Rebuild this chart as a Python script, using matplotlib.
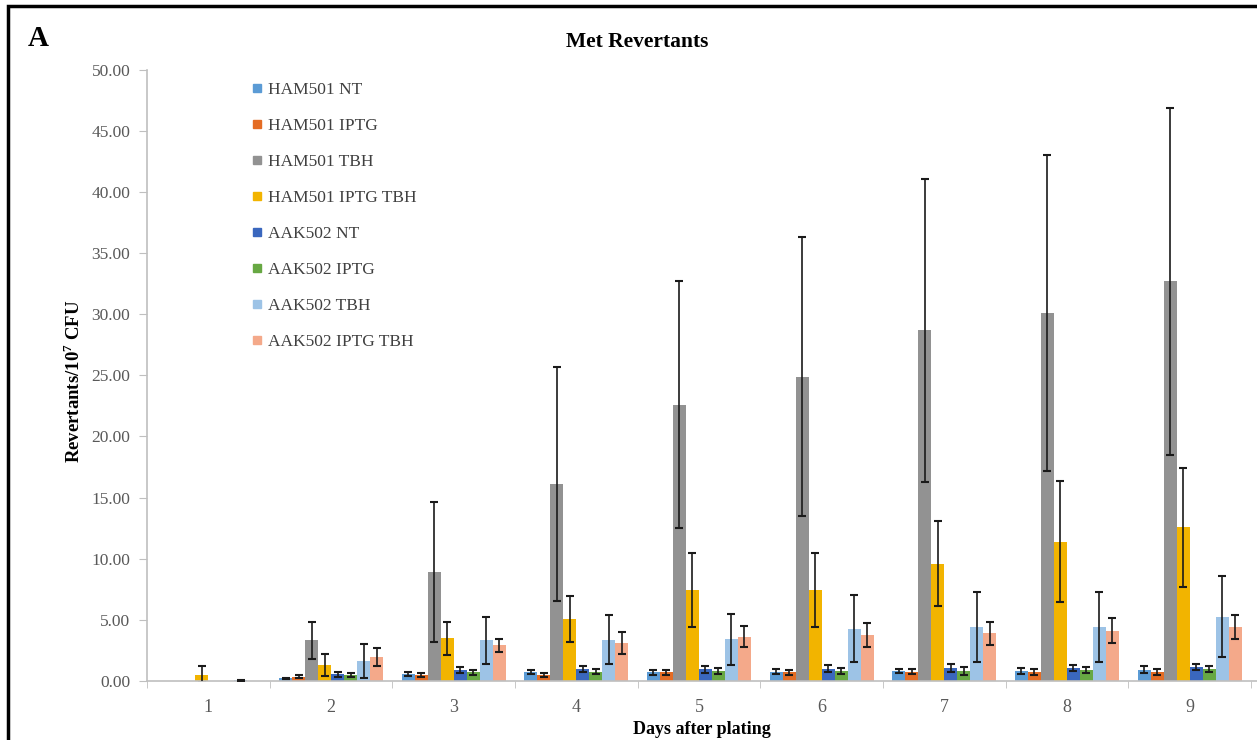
import numpy as np
import matplotlib
matplotlib.use("Agg")
import matplotlib.pyplot as plt
from matplotlib.lines import Line2D
from matplotlib.patches import Rectangle

plt.rcParams['font.family'] = ['Liberation Serif', 'DejaVu Serif']
plt.rcParams['mathtext.fontset'] = 'custom'
plt.rcParams['mathtext.rm'] = 'Liberation Serif'
plt.rcParams['mathtext.bf'] = 'Liberation Serif:bold'

# data
days = [1, 2, 3, 4, 5, 6, 7, 8, 9]
series = ["HAM501 NT", "HAM501 IPTG", "HAM501 TBH", "HAM501 IPTG TBH",
          "AAK502 NT", "AAK502 IPTG", "AAK502 TBH", "AAK502 IPTG TBH"]
colors = ["#5B9BD5", "#E46C24", "#929292", "#F2B400",
          "#3A67BE", "#67A843", "#9DC3E6", "#F4A98A"]

ham_nt = [0.0, 0.2, 0.55, 0.7, 0.7, 0.75, 0.8, 0.8, 0.9]
ham_nt_err = [0.0, 0.05, 0.15, 0.15, 0.2, 0.2, 0.2, 0.25, 0.3]
ham_iptg = [0.0, 0.35, 0.45, 0.5, 0.7, 0.7, 0.75, 0.75, 0.75]
ham_iptg_err = [0.0, 0.15, 0.15, 0.15, 0.2, 0.2, 0.2, 0.25, 0.25]
ham_tbh = [0.0, 3.3, 8.9, 16.1, 22.6, 24.9, 28.7, 30.1, 32.7]
ham_tbh_err = [0.0, 1.5, 5.7, 9.6, 10.1, 11.4, 12.4, 12.9, 14.2]
ham_iptg_tbh = [0.5, 1.3, 3.5, 5.05, 7.45, 7.45, 9.6, 11.4, 12.55]
ham_iptg_tbh_err = [0.7, 0.9, 1.35, 1.85, 3.05, 3.05, 3.5, 4.95, 4.9]
aak_nt = [0.0, 0.55, 0.85, 0.95, 0.95, 1.0, 1.05, 1.05, 1.15]
aak_nt_err = [0.0, 0.2, 0.25, 0.25, 0.3, 0.3, 0.3, 0.25, 0.25]
aak_iptg = [0.0, 0.5, 0.7, 0.75, 0.8, 0.8, 0.8, 0.9, 1.0]
aak_iptg_err = [0.0, 0.15, 0.2, 0.2, 0.25, 0.25, 0.3, 0.25, 0.25]
aak_tbh = [0.05, 1.65, 3.3, 3.35, 3.4, 4.25, 4.4, 4.4, 5.25]
aak_tbh_err = [0.05, 1.4, 1.9, 2.0, 2.1, 2.75, 2.85, 2.85, 3.3]
aak_iptg_tbh = [0.0, 1.95, 2.9, 3.1, 3.6, 3.75, 3.9, 4.1, 4.4]
aak_iptg_tbh_err = [0.0, 0.75, 0.55, 0.9, 0.85, 0.95, 0.95, 1.0, 1.0]

values = [ham_nt, ham_iptg, ham_tbh, ham_iptg_tbh, aak_nt, aak_iptg, aak_tbh, aak_iptg_tbh]
errors = [ham_nt_err, ham_iptg_err, ham_tbh_err, ham_iptg_tbh_err,
          aak_nt_err, aak_iptg_err, aak_tbh_err, aak_iptg_tbh_err]

fig = plt.figure(figsize=(12.57, 7.4), dpi=100)
ax = fig.add_axes([0.117, 0.080, 0.883, 0.8255])

x = np.arange(len(days))
n = len(series)
width = 0.106
for i in range(n):
    pos = x + (i - (n - 1) / 2) * width
    v = np.array(values[i])
    e = np.array(errors[i])
    ax.bar(pos, v, width, color=colors[i], zorder=2)
    # no error bar where there is no measurement
    keep = (v > 0) | (e > 0)
    ax.errorbar(pos[keep], v[keep], yerr=e[keep], fmt='none', ecolor='#1a1a1a',
                elinewidth=1.2, capsize=3, capthick=1.5, zorder=3)

ax.set_xlim(-0.5, len(days) - 0.45)
ax.set_ylim(0, 50)
ax.set_yticks(np.arange(0, 50.1, 5))
ax.set_yticklabels([f"{v:.2f}" for v in np.arange(0, 50.1, 5)])
ax.set_xticks(x)
ax.set_xticklabels([str(d) for d in days])
ax.set_xticks(np.arange(-0.5, len(days), 1), minor=True)
ax.tick_params(axis='x', which='major', length=0, pad=13, labelsize=13, labelcolor='#595959')
ax.tick_params(axis='x', which='minor', length=5, color='#bfbfbf')
ax.tick_params(axis='y', length=6, color='#bfbfbf', labelsize=12.5, labelcolor='#595959', pad=6)

for s in ['top', 'right']:
    ax.spines[s].set_visible(False)
for s in ['left', 'bottom']:
    ax.spines[s].set_color('#bfbfbf')
    ax.spines[s].set_linewidth(1.2)

ax.set_xlabel("Days after plating", fontsize=13, fontweight='bold', va='top')
ax.xaxis.set_label_coords(0.5, -0.066)
ax.set_ylabel(r"Revertants/10$^{\mathbf{7}}$ CFU", fontsize=13.5, fontweight='bold')
ax.yaxis.set_label_coords(-0.057, 0.49)

fig.text(0.507, 0.943, "Met Revertants", ha='center', va='center', fontsize=15.5, fontweight='bold')
fig.text(0.022, 0.948, "A", ha='left', va='center', fontsize=21, fontweight='bold')

handles = [Line2D([], [], marker='s', linestyle='none', markersize=6,
                  markerfacecolor=c, markeredgecolor=c) for c in colors]
ax.legend(handles, series, loc='upper left', bbox_to_anchor=(0.188, 0.911), bbox_transform=fig.transFigure,
          frameon=False, fontsize=12.5, labelspacing=1.15, handlelength=0.6, handletextpad=0.3,
          labelcolor='#404040')

# frame around the panel: left edge at x~8px, top at y~6px, running off right and bottom
fig.add_artist(Rectangle((8 / 1257, -0.1), 1.2, 1.1 - 6 / 740, transform=fig.transFigure,
                         fill=False, edgecolor='black', linewidth=2.5))

fig.savefig("out.png", dpi=100)
